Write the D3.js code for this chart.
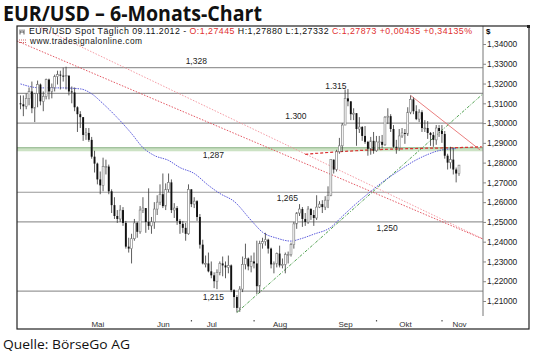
<!DOCTYPE html>
<html>
<head>
<meta charset="utf-8" />
<script src="https://d3js.org/d3.v7.min.js"></script>
<style>
  body { margin: 0; background: #fff; }
  text { font-family: "Liberation Sans", Arial, sans-serif; }
</style>
</head>
<body>
<svg id="chart" width="540" height="355"></svg>
<script>
// daily bars, 09.04.2012 .. 09.11.2012 (trading days)
var firstDay = "2012-04-09", lastDay = "2012-11-09";
var open = [1.3100,1.3095,1.3085,1.3125,1.3160,1.3075,1.3150,1.3195,1.3110,1.3135,1.3220,1.3160,1.3180,1.3235,1.3245,1.3240,
  1.3235,1.3240,1.3160,1.3155,1.3080,1.3045,1.3030,1.2940,1.2950,1.2915,1.2830,1.2795,1.2715,1.2685,1.2780,1.2780,1.2655,1.2585,1.2530,1.2515,1.2560,1.2495,1.2375,
  1.2365,1.2415,1.2495,1.2450,1.2560,1.2570,1.2500,1.2480,1.2500,1.2565,1.2600,1.2640,1.2580,1.2665,1.2700,1.2560,1.2570,1.2505,1.2490,1.2470,1.2440,
  1.2665,1.2590,1.2605,1.2525,1.2385,1.2290,1.2290,1.2250,1.2230,1.2200,1.2245,1.2290,1.2280,1.2270,1.2280,1.2155,1.2120,1.2065,1.2160,1.2285,1.2315,1.2275,
  1.2300,1.2290,1.2175,1.2390,1.2400,1.2410,1.2365,1.2285,1.2290,1.2340,1.2280,1.2285,1.2335,1.2335,1.2385,1.2490,1.2545,1.2565,1.2515,1.2500,1.2565,1.2535,1.2520,
  1.2575,1.2590,1.2575,1.2610,1.2635,1.2815,1.2765,1.2855,1.2885,1.2990,1.3125,1.3110,1.3045,1.3050,1.2970,1.2980,1.2935,1.2905,1.2870,1.2910,
  1.2860,1.2905,1.2905,1.2890,1.3030,1.3035,1.2970,1.2880,1.2875,1.2935,1.2950,1.2945,1.3055,1.3120,1.3060,1.3020,1.3055,1.2975,1.2975,1.2950,1.2940,1.2915,1.2975,
  1.2960,1.2945,1.2835,1.2800,1.2815,1.2765,1.27445];
var high = [1.3140,1.3140,1.3150,1.3180,1.3210,1.3150,1.3215,1.3200,1.3160,1.3225,1.3225,1.3200,1.3245,1.3265,1.3265,1.3280,
  1.3285,1.3240,1.3185,1.3180,1.3085,1.3060,1.3030,1.2975,1.2975,1.2930,1.2860,1.2800,1.2755,1.2825,1.2815,1.2790,1.2665,1.2625,1.2560,1.2585,1.2575,1.2505,1.2420,
  1.2440,1.2515,1.2500,1.2580,1.2625,1.2570,1.2670,1.2525,1.2600,1.2635,1.2690,1.2745,1.2695,1.2745,1.2715,1.2595,1.2580,1.2515,1.2505,1.2495,1.2690,
  1.2665,1.2625,1.2610,1.2540,1.2410,1.2330,1.2345,1.2300,1.2245,1.2260,1.2300,1.2325,1.2300,1.2330,1.2285,1.2160,1.2130,1.2175,1.2325,1.2390,1.2320,1.2330,
  1.2345,1.2405,1.2405,1.2420,1.2445,1.2415,1.2370,1.2300,1.2345,1.2380,1.2315,1.2345,1.2350,1.2395,1.2500,1.2550,1.2590,1.2575,1.2545,1.2580,1.2570,1.2560,1.2635,
  1.2605,1.2610,1.2630,1.2680,1.2815,1.2815,1.2865,1.2925,1.3000,1.3170,1.3172,1.3110,1.3075,1.3050,1.3030,1.2985,1.2985,1.2910,1.2930,1.2955,
  1.2935,1.2935,1.2940,1.3035,1.3075,1.3045,1.2990,1.2915,1.2970,1.2975,1.2970,1.3080,1.3140,1.3130,1.3090,1.3070,1.3065,1.3015,1.3010,1.2955,1.2955,1.2990,1.2990,
  1.2990,1.2960,1.2845,1.2880,1.2875,1.2775,1.27880];
var low = [1.3070,1.3035,1.3070,1.3090,1.3050,1.3005,1.3080,1.3090,1.3060,1.3120,1.3120,1.3125,1.3160,1.3195,1.3170,1.3210,
  1.3170,1.3140,1.3100,1.3060,1.2955,1.2975,1.2910,1.2915,1.2905,1.2820,1.2750,1.2690,1.2640,1.2655,1.2740,1.2640,1.2545,1.2515,1.2495,1.2500,1.2480,1.2365,1.2345,
  1.2290,1.2405,1.2420,1.2440,1.2545,1.2445,1.2460,1.2440,1.2465,1.2535,1.2585,1.2570,1.2560,1.2650,1.2545,1.2520,1.2485,1.2440,1.2445,1.2405,1.2435,
  1.2575,1.2570,1.2505,1.2365,1.2285,1.2270,1.2245,1.2215,1.2165,1.2160,1.2230,1.2225,1.2215,1.2240,1.2145,1.2065,1.2042,1.2045,1.2145,1.2260,1.2255,1.2245,
  1.2265,1.2135,1.2140,1.2365,1.2380,1.2340,1.2265,1.2240,1.2270,1.2270,1.2265,1.2240,1.2290,1.2325,1.2365,1.2465,1.2530,1.2475,1.2480,1.2490,1.2510,1.2480,1.2510,
  1.2570,1.2545,1.2560,1.2570,1.2630,1.2745,1.2755,1.2845,1.2855,1.2990,1.3085,1.3015,1.3015,1.2885,1.2950,1.2910,1.2895,1.2835,1.2840,1.2845,
  1.2855,1.2865,1.2875,1.2885,1.2995,1.2955,1.2875,1.2845,1.2860,1.2925,1.2895,1.2935,1.3045,1.3045,1.3015,1.3005,1.2955,1.2955,1.2920,1.2885,1.2880,1.2890,1.2930,
  1.2900,1.2820,1.2765,1.2770,1.2740,1.2700,1.27332];
var close = [1.3095,1.3085,1.3125,1.3160,1.3075,1.3150,1.3195,1.3110,1.3135,1.3220,1.3160,1.3180,1.3235,1.3245,1.3240,1.3235,
  1.3240,1.3160,1.3155,1.3080,1.3045,1.3030,1.2940,1.2950,1.2915,1.2830,1.2795,1.2715,1.2685,1.2780,1.2780,1.2655,1.2585,1.2530,1.2515,1.2560,1.2495,1.2375,1.2365,
  1.2415,1.2495,1.2450,1.2560,1.2570,1.2500,1.2480,1.2500,1.2565,1.2600,1.2640,1.2580,1.2665,1.2700,1.2560,1.2570,1.2505,1.2490,1.2470,1.2440,1.2665,
  1.2590,1.2605,1.2525,1.2385,1.2290,1.2290,1.2250,1.2230,1.2200,1.2245,1.2290,1.2280,1.2270,1.2280,1.2155,1.2120,1.2065,1.2160,1.2285,1.2315,1.2275,1.2300,
  1.2290,1.2175,1.2390,1.2400,1.2410,1.2365,1.2285,1.2290,1.2340,1.2280,1.2285,1.2335,1.2335,1.2385,1.2490,1.2545,1.2565,1.2515,1.2500,1.2565,1.2535,1.2520,1.2575,
  1.2590,1.2575,1.2610,1.2635,1.2815,1.2765,1.2855,1.2885,1.2990,1.3125,1.3110,1.3045,1.3050,1.2970,1.2980,1.2935,1.2905,1.2870,1.2910,1.2860,
  1.2905,1.2905,1.2890,1.3030,1.3035,1.2970,1.2880,1.2875,1.2935,1.2950,1.2945,1.3055,1.3120,1.3060,1.3020,1.3055,1.2975,1.2975,1.2950,1.2940,1.2915,1.2975,1.2960,
  1.2945,1.2835,1.2800,1.2815,1.2765,1.2745,1.27873];

// 50-day average (blue): [bar index, price]
var avgBlue = [[0,1.3198],[7,1.3178],[14,1.3178],[21,1.3173],[25,1.3148],[29,1.3098],[34,1.3027],[39,1.2947],[43,1.2876],
  [47,1.2836],[52,1.2811],[56,1.2775],[61,1.2745],[66,1.2685],[70,1.2644],[75,1.2604],[81,1.2508],[85,1.2448],[90,1.2418],
  [95,1.2403],[98,1.2413],[103,1.2438],[109,1.2473],[113,1.2528],[118,1.2594],[123,1.2654],[127,1.2700],[133,1.2760],
  [138,1.2806],[143,1.2841],[147,1.2861],[153,1.2871]];
// 200-day average (red dashed)
var avgRed = [[100,1.2842],[105,1.2848],[112,1.2855],[120,1.2862],[130,1.2868],[140,1.2872],[154,1.2876],[162,1.2880]];

// horizontal marks
var levels = [1.328, 1.315, 1.300, 1.265, 1.250, 1.215];
var levelText = ["1,328", "1.315", "1.300", "1,265", "1,250", "1,215"];
var levelLabelAt = [58, 107, 93, 90, 125, 64];   // bar index of label
var band = 1.287, bandText = "1,287", bandLabelAt = 64;

// trend lines: [bar index, price] pairs
var redTrends = [[[-1.2, 1.3415], [162.3, 1.2414]], [[38.4, 1.3268], [87.5, 1.2930]]];
var redColors = ["#e04652", "#f3909a"];
var greenTrend = [[76, 1.2042], [161.4, 1.3135]];
var resistTrend = [[137, 1.3140], [161.4, 1.2864]];

var priceTicks = [1.34,1.33,1.32,1.31,1.30,1.29,1.28,1.27,1.26,1.25,1.24,1.23,1.22,1.21];
var monthNames = ["Mai", "Jun", "Jul", "Aug", "Sep", "Okt", "Nov"];
var monthLabelDays = ["2012-05-16", "2012-06-18", "2012-07-11", "2012-08-14", "2012-09-14", "2012-10-15", "2012-11-09"];
var monthTickDays = ["2012-07-02", "2012-08-01", "2012-10-01", "2012-11-01"];

const svg = d3.select('#chart');
const L = 17, T = 26, R = 529, B = 329, axisX = 483;

var parse = d3.timeParse("%Y-%m-%d"), fmt = d3.timeFormat("%Y-%m-%d");
var days = d3.timeDay.range(parse(firstDay), d3.timeDay.offset(parse(lastDay), 1))
  .filter(function (d) { return d.getDay() != 0 && d.getDay() != 6; }).map(fmt);
var bars = days.map(function (d, i) {
  return { day: d, o: open[i], h: high[i], l: low[i], c: close[i] };
});

var x = d3.scaleLinear().domain([0, bars.length - 1]).range([20.5, 459]);
var y = d3.scaleLinear().domain([1.21, 1.34]).range([301, 44]);

svg.append('text').attr('x', 3).attr('y', 21)
  .style('font-family', '"Open Sans", sans-serif').style('font-weight', 700).style('font-size', '21px')
  .attr('textLength', 259).attr('lengthAdjust', 'spacingAndGlyphs').attr('fill', '#111')
  .text("EUR/USD \u2013 6-Monats-Chart");

svg.append('text').attr('x', 3).attr('y', 349)
  .style('font-family', '"Open Sans", sans-serif').style('font-size', '13px').attr('fill', '#111')
  .attr('textLength', 127).attr('lengthAdjust', 'spacingAndGlyphs')
  .text("Quelle: BörseGo AG");

svg.append('defs').append('clipPath').attr('id', 'plot')
  .append('rect').attr('x', L).attr('y', T).attr('width', axisX - L).attr('height', B - T);
const plot = svg.append('g').attr('clip-path', 'url(#plot)');

// level lines
levels.forEach(function (v, i) {
  plot.append('line').attr('x1', L).attr('x2', axisX).attr('y1', y(v)).attr('y2', y(v))
    .style('stroke', '#999').style('stroke-width', 1.2);
});
plot.append('rect').attr('x', L).attr('width', axisX - L).attr('y', y(band) - 1.5).attr('height', 4)
  .attr('fill', '#cce2c4');
plot.append('line').attr('x1', L).attr('x2', axisX).attr('y1', y(band) - 1).attr('y2', y(band) - 1)
  .style('stroke', '#8fb58a').style('stroke-width', 1);

// trend lines
var seg = d3.line().x(function (p) { return x(p[0]); }).y(function (p) { return y(p[1]); });
function extend(p) {
  var k = (p[1][1] - p[0][1]) / (p[1][0] - p[0][0]);
  var a = x.invert(L), b = x.invert(axisX);
  return [[a, p[0][1] + k * (a - p[0][0])], [b, p[0][1] + k * (b - p[0][0])]];
}
redTrends.forEach(function (t, i) {
  plot.append('path').attr('d', seg(extend(t))).attr('fill', 'none')
    .style('stroke', redColors[i]).style('stroke-width', 0.9).style('stroke-dasharray', '1.5,1.5');
});
plot.append('path').attr('d', seg([greenTrend[0], extend(greenTrend)[1]])).attr('fill', 'none')
  .style('stroke', '#3c963c').style('stroke-width', 0.9).style('stroke-dasharray', '3,1.5,1,1.5');
plot.append('path').attr('d', seg(resistTrend)).attr('fill', 'none')
  .style('stroke', '#e87070').style('stroke-width', 0.9);

// averages
var curve = d3.line().curve(d3.curveMonotoneX).x(function (p) { return x(p[0]); }).y(function (p) { return y(p[1]); });
plot.append('path').attr('d', curve(avgRed)).attr('fill', 'none')
  .style('stroke', '#d93030').style('stroke-width', 1.2).style('stroke-dasharray', '3,2');
plot.append('path').attr('d', curve(avgBlue)).attr('fill', 'none')
  .style('stroke', '#4a4ad8').style('stroke-width', 0.9).style('stroke-dasharray', '1.5,1');

// candles
var cw = 1.9;
var candle = plot.selectAll('g.bar').data(bars).enter().append('g').attr('class', 'bar');
candle.append('line')
  .attr('x1', function (d, i) { return x(i); }).attr('x2', function (d, i) { return x(i); })
  .attr('y1', function (d) { return y(d.h); }).attr('y2', function (d) { return y(d.l); })
  .style('stroke', '#333').style('stroke-width', 0.8);
candle.append('rect')
  .attr('x', function (d, i) { return x(i) - cw / 2; })
  .attr('y', function (d) { return y(Math.max(d.o, d.c)); })
  .attr('width', cw)
  .attr('height', function (d) { return Math.max(0.8, Math.abs(y(d.o) - y(d.c))); })
  .attr('fill', function (d) { return d.c >= d.o ? '#fff' : '#111'; })
  .style('stroke', function (d) { return d.c >= d.o ? '#777' : 'none'; })
  .style('stroke-width', 0.6);

// level labels
levels.forEach(function (v, i) {
  var above = (v == 1.328 || v == 1.315 || v == 1.300);
  plot.append('text').attr('x', x(levelLabelAt[i])).attr('y', y(v) + (above ? -4 : 9))
    .style('font-size', '8.5px').attr('fill', '#222').text(levelText[i]);
});
plot.append('text').attr('x', x(bandLabelAt)).attr('y', y(band) + 9)
  .style('font-size', '8.5px').attr('fill', '#222').text(bandText);

// price axis
svg.append('line').attr('x1', axisX).attr('x2', axisX).attr('y1', T).attr('y2', 316)
  .style('stroke', '#777').style('stroke-width', 1);
var yAxis = d3.axisRight(y).tickValues(priceTicks).tickSize(3).tickPadding(1)
  .tickFormat(function (v) { return d3.format(".5f")(v).replace('.', ','); });
var ya = svg.append('g').attr('transform', 'translate(' + axisX + ',0)').call(yAxis);
ya.select('.domain').remove();
ya.selectAll('line').style('stroke', '#888');
ya.selectAll('text').style('font-size', '8.4px').style('font-family', '"Liberation Sans", Arial, sans-serif').attr('fill', '#222');
svg.append('text').attr('x', 486).attr('y', 34).style('font-size', '8px').style('font-weight', 'bold').text('$');

// month axis
var idx = {};
days.forEach(function (d, i) { idx[d] = i; });
var xa = svg.append('g').attr('transform', 'translate(0,' + (B - 11) + ')')
  .call(d3.axisBottom(x).tickValues(monthLabelDays.map(function (d) { return idx[d]; }))
    .tickSize(0).tickPadding(3).tickFormat(function (v, i) { return monthNames[i]; }));
xa.select('.domain').remove();
xa.selectAll('text').style('font-size', '8px').style('font-family', '"Liberation Sans", Arial, sans-serif').attr('fill', '#333');
monthTickDays.forEach(function (d) {
  svg.append('rect').attr('x', x(idx[d]) - 0.5).attr('y', B - 9).attr('width', 1.2).attr('height', 1.5).attr('fill', '#555');
});

// header
var head = svg.append('text').attr('x', 29).attr('y', 33.5).style('font-size', '8.8px')
  .attr('textLength', 443).attr('lengthAdjust', 'spacing');
[["EUR/USD Spot Täglich  09.11.2012  - ", "#111"], ["O:1,27445 ", "#e03030"], ["H:1,27880 L:1,27332 ", "#111"],
 ["C:1,27873 +0,00435 +0,34135%", "#e03030"]].forEach(function (p) {
  head.append('tspan').attr('fill', p[1]).text(p[0]);
});
svg.append('path').attr('d', 'M20,29.5v5M20,32h4M24,29.5v5M22,29.5v1.5').style('stroke', '#333').style('stroke-width', 0.8).attr('fill', 'none');
svg.append('text').attr('x', 30).attr('y', 43.5).style('font-size', '8.4px').attr('fill', '#111')
  .attr('textLength', 112).attr('lengthAdjust', 'spacing').text('www.tradesignalonline.com');
svg.append('path').attr('d', 'M19,40h7M19,42.5h7').style('stroke', '#c04040').style('stroke-width', 0.8).style('stroke-dasharray', '1,1');

// frame
svg.append('rect').attr('x', L).attr('y', T).attr('width', R - L).attr('height', B - T)
  .attr('fill', 'none').style('stroke', '#222').style('stroke-width', 1.2);
svg.append('rect').attr('x', R - 2).attr('y', T - 1).attr('width', 3).attr('height', 3).attr('fill', '#222');
</script>
</body>
</html>
